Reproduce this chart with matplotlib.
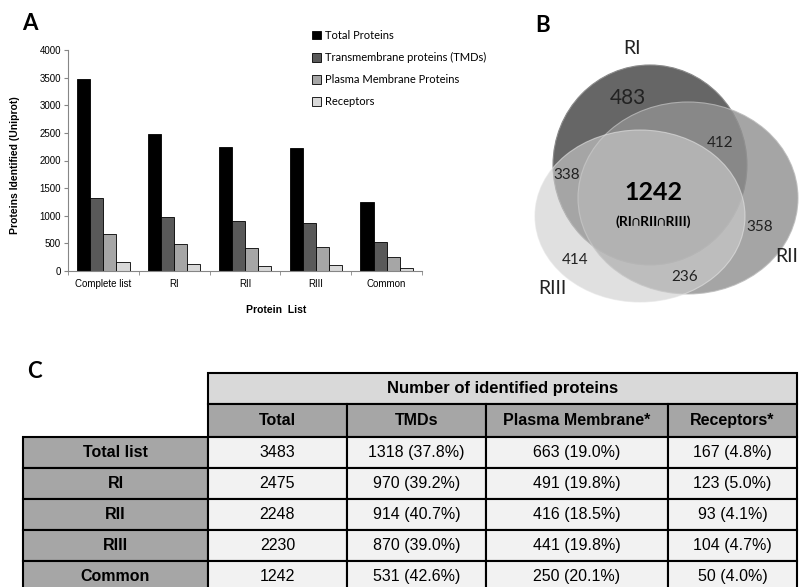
import numpy as np
import matplotlib
matplotlib.use('Agg')
import matplotlib.pyplot as plt
from matplotlib.patches import Ellipse, Rectangle, Patch

plt.rcParams['font.family'] = ['Liberation Sans', 'DejaVu Sans']

W, H = 799, 587

## data
groups = ['Complete list', 'RI', 'RII', 'RIII', 'Common']
series_names = ['Total Proteins', 'Transmembrane proteins (TMDs)',
                'Plasma Membrane Proteins', 'Receptors']
total = [3483, 2475, 2248, 2230, 1242]
tmds = [1318, 970, 914, 870, 531]
plasma = [663, 491, 416, 441, 250]
receptors = [167, 123, 93, 104, 50]
tmds_pct = [37.8, 39.2, 40.7, 39.0, 42.6]
plasma_pct = [19.0, 19.8, 18.5, 19.8, 20.1]
receptors_pct = [4.8, 5.0, 4.1, 4.7, 4.0]

row_labels = ['Total list', 'RI', 'RII', 'RIII', 'Common']
col_labels = ['Total', 'TMDs', 'Plasma Membrane*', 'Receptors*']

venn_sets = ['RI', 'RII', 'RIII']
venn_counts = [483, 412, 338, 1242, 358, 414, 236]

bar_colors = ['#000000', '#595959', '#a6a6a6', '#d9d9d9']


def px_rect(l, t, r, b):
    return [l / W, 1 - b / H, (r - l) / W, (b - t) / H]


fig = plt.figure(figsize=(W / 100, H / 100), dpi=100)

## table + page axes (pixel coordinates)
page = fig.add_axes([0, 0, 1, 1])
page.set_xlim(0, W)
page.set_ylim(H, 0)
page.axis('off')

col_x = [23, 208, 347, 486, 668, 797]
head1 = (373, 404)
head2 = (404, 437)
row_top = 437
row_h = 31
lw = 1.5

page.add_patch(Rectangle((col_x[1], head1[0]), col_x[-1] - col_x[1], head1[1] - head1[0],
                         facecolor='#d9d9d9', edgecolor='black', linewidth=lw))
page.text((col_x[1] + col_x[-1]) / 2, sum(head1) / 2, 'Number of identified proteins',
          ha='center', va='center', fontsize=12, fontweight='bold')
for k, lab in enumerate(col_labels):
    page.add_patch(Rectangle((col_x[k + 1], head2[0]), col_x[k + 2] - col_x[k + 1], head2[1] - head2[0],
                             facecolor='#a6a6a6', edgecolor='black', linewidth=lw))
    page.text((col_x[k + 1] + col_x[k + 2]) / 2, sum(head2) / 2, lab,
              ha='center', va='center', fontsize=11.5, fontweight='bold')

for i, lab in enumerate(row_labels):
    y0 = row_top + i * row_h
    cells = [str(total[i]),
             '%d (%.1f%%)' % (tmds[i], tmds_pct[i]),
             '%d (%.1f%%)' % (plasma[i], plasma_pct[i]),
             '%d (%.1f%%)' % (receptors[i], receptors_pct[i])]
    page.add_patch(Rectangle((col_x[0], y0), col_x[1] - col_x[0], row_h,
                             facecolor='#a6a6a6', edgecolor='black', linewidth=lw))
    page.text((col_x[0] + col_x[1]) / 2, y0 + row_h / 2, lab,
              ha='center', va='center', fontsize=11.5, fontweight='bold')
    for k, txt in enumerate(cells):
        page.add_patch(Rectangle((col_x[k + 1], y0), col_x[k + 2] - col_x[k + 1], row_h,
                                 facecolor='#f2f2f2', edgecolor='black', linewidth=lw))
        page.text((col_x[k + 1] + col_x[k + 2]) / 2, y0 + row_h / 2, txt,
                  ha='center', va='center', fontsize=11.5)

## bar chart
ax = fig.add_axes(px_rect(68, 50, 422, 271))
x = np.arange(len(groups))
width = 0.185
for j, (vals, c, name) in enumerate(zip([total, tmds, plasma, receptors], bar_colors, series_names)):
    ax.bar(x + (j - 1.5) * width, vals, width, color=c, edgecolor='black', linewidth=0.6, label=name)
ax.set_xlim(-0.5, 4.5)
ax.set_ylim(0, 4000)
ax.set_yticks(range(0, 4001, 500))
ax.set_xticks(x)
ax.set_xticklabels(groups)
ax.set_xticks(np.arange(-0.5, 5, 1), minor=True)
ax.tick_params(axis='x', which='major', length=0, pad=6, labelsize=7)
ax.tick_params(axis='x', which='minor', length=3, color='#868686')
ax.tick_params(axis='y', length=3, color='#868686', pad=2, labelsize=7)
for s in ['top', 'right']:
    ax.spines[s].set_visible(False)
for s in ['left', 'bottom']:
    ax.spines[s].set_color('#868686')
    ax.spines[s].set_linewidth(0.8)

fig.text(15 / W, 1 - 165 / H, 'Proteins Identified (Uniprot)', rotation=90,
         ha='center', va='center', fontsize=7.5, fontweight='bold')
fig.text(276 / W, 1 - 310 / H, 'Protein  List', ha='center', va='center',
         fontsize=7.5, fontweight='bold')

handles = [Patch(facecolor=c, edgecolor='black', linewidth=0.6) for c in bar_colors]
fig.legend(handles, series_names, loc='upper left', bbox_to_anchor=(312 / W, 1 - 30 / H),
           frameon=False, prop={'family': 'Lato', 'size': 8}, labelspacing=1.0,
           handlelength=0.8, handleheight=0.8, handletextpad=0.35,
           borderpad=0, borderaxespad=0)

## venn
av = fig.add_axes(px_rect(500, 0, 799, 310))
av.set_xlim(500, 799)
av.set_ylim(310, 0)
av.axis('off')
av.add_patch(Ellipse((650, 165), 194, 200, facecolor='#666666', edgecolor='#8a8a8a', linewidth=0.8))
av.add_patch(Ellipse((688, 198), 220, 192, facecolor='#919191', alpha=0.81, edgecolor='#bbbbbb', linewidth=0.8))
av.add_patch(Ellipse((640, 216), 210, 172, facecolor='#cdcdcd', alpha=0.62, edgecolor='#e4e4e4', linewidth=0.8))

label_pos = [(628, 98), (720, 143), (567, 175), (653, 193), (760, 227), (575, 260), (685, 277)]
for n, (px, py) in zip(venn_counts, label_pos):
    if n == 1242:
        av.text(px, py, str(n), ha='center', va='center', fontsize=18, fontweight='bold', family='Lato')
    elif n == 483:
        av.text(px, py, str(n), ha='center', va='center', fontsize=15, color='#222222', family='Lato')
    else:
        av.text(px, py, str(n), ha='center', va='center', fontsize=11, color='#222222', family='Lato')
av.text(653, 222, '(RI\u2229RII\u2229RIII)', ha='center', va='center', fontsize=10,
        fontweight='bold', family=['Lato', 'DejaVu Sans'])
for name, (px, py) in zip(venn_sets, [(632, 48), (787, 257), (552, 288)]):
    av.text(px, py, name, ha='center', va='center', fontsize=14, family='Lato', color='#222222')

## panel letters
for letter, (px, py) in zip(['A', 'B', 'C'], [(30, 24), (543, 25), (34, 372)]):
    fig.text(px / W, 1 - py / H, letter, ha='center', va='center', fontsize=16,
             fontweight='bold', family='Lato')

fig.savefig('out.png', dpi=100)
